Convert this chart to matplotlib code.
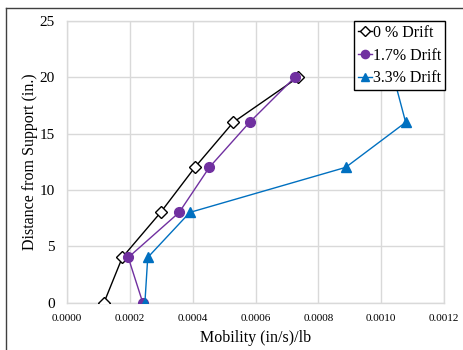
import matplotlib
matplotlib.use("Agg")
import matplotlib.pyplot as plt
from matplotlib.lines import Line2D

plt.rcParams['font.family'] = ['Liberation Serif', 'DejaVu Serif']

distance = [0, 4, 8, 12, 16, 20]
mob_0 = [0.000118, 0.000176, 0.000298, 0.000407, 0.000529, 0.000736]
mob_17 = [0.000241, 0.000195, 0.000357, 0.000453, 0.000581, 0.000725]
mob_33 = [0.000248, 0.000257, 0.000391, 0.000887, 0.001078, 0.001040]
labels = ["0 % Drift", "1.7% Drift", "3.3% Drift"]

W, H = 463, 350
fig = plt.figure(figsize=(W / 100, H / 100), dpi=100)
ax = fig.add_axes([67 / W, 1 - 302.5 / H, (444 - 67) / W, (302.5 - 21) / H])

ax.plot(mob_0, distance, color='black', lw=1.0, marker='D', ms=6,
        mfc='white', mec='black', mew=1.0, label=labels[0], zorder=3)
ax.plot(mob_17, distance, color='#7030A0', lw=1.0, marker='o', ms=7,
        mfc='#7030A0', mec='#7030A0', label=labels[1], zorder=3)
ax.plot(mob_33, distance, color='#0070C0', lw=1.0, marker='^', ms=6.5,
        mfc='#0070C0', mec='#0070C0', label=labels[2], zorder=3)

ax.set_xlim(0, 0.0012)
ax.set_ylim(0, 25)
ax.set_xticks([0.0, 0.0002, 0.0004, 0.0006, 0.0008, 0.0010, 0.0012])
ax.set_xticklabels([f"{v:.4f}" for v in ax.get_xticks()], fontsize=8)
ax.set_yticks([0, 5, 10, 15, 20, 25])
ax.tick_params(axis='y', labelsize=11, length=0, pad=9)
ax.tick_params(axis='x', length=0, pad=8)
ax.grid(True, color='#d9d9d9', lw=1.0)
ax.set_axisbelow(True)
for s in ax.spines.values():
    s.set_color('#d9d9d9')
    s.set_linewidth(1.0)

ax.set_xlabel("Mobility (in/s)/lb", fontsize=11.5, labelpad=5)
ax.set_ylabel("Distance from Support (in.)", fontsize=11.5, labelpad=1)

leg = ax.legend(loc='upper right', bbox_to_anchor=(445 / W, 1 - 21 / H),
                bbox_transform=fig.transFigure, borderaxespad=0,
                fontsize=11.5, handlelength=0.9, handletextpad=0.05,
                borderpad=0.25, labelspacing=0.42, fancybox=False,
                framealpha=1, edgecolor='black', markerscale=0.85)
leg.get_frame().set_linewidth(1.0)
leg.set_zorder(5)

# chart-area border
fig.add_artist(Line2D([6 / W, 6 / W], [0, 1 - 8 / H], transform=fig.transFigure,
                      color='#404040', lw=1.0))
fig.add_artist(Line2D([6 / W, 1], [1 - 8 / H, 1 - 8 / H], transform=fig.transFigure,
                      color='#404040', lw=1.0))

fig.savefig("out.png", dpi=100)
